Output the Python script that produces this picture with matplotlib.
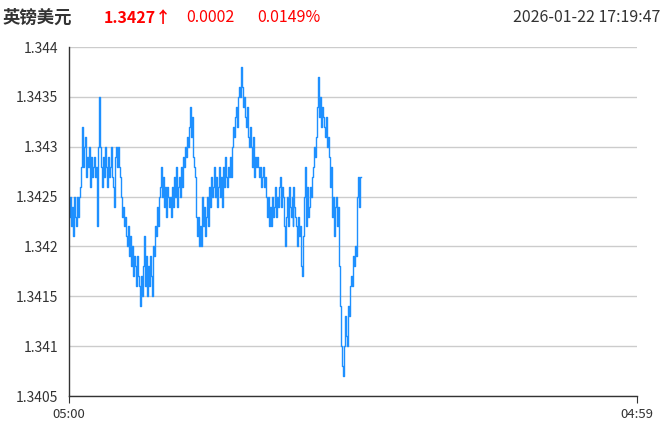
import matplotlib
matplotlib.use("Agg")
import matplotlib.pyplot as plt
import numpy as np

# GBP/USD intraday, one value per ~2.5 minutes, in pips above 1.3400
base = 1.3400
pips = [
    24, 23, 25, 22, 24, 21, 25, 23, 22, 25,
    23, 25, 26, 28, 32,
    28, 30, 31, 27, 29, 28, 30, 26, 29, 27,
    28, 29, 27, 28, 22, 30,
    35,
    30, 28, 26, 29, 27, 30, 28, 26, 29, 27,
    28, 30, 27, 26, 24, 29, 30, 28, 30, 28,
    27, 25, 23, 24, 22, 23, 21, 20, 22, 19,
    21, 18, 20, 17, 19, 18, 16, 19, 17, 16,
    14, 17, 15, 18, 21, 16, 19, 15, 18, 16,
    19, 17, 15, 20, 19, 22, 21, 24, 22, 25,
    26, 28, 25, 27, 24, 26, 23, 26, 25, 24,
    25, 23, 26, 24, 27, 25, 28, 24, 26, 27,
    25, 28, 26, 29, 28, 30, 29, 31, 30, 32,
    34, 31, 33, 29, 28, 27, 23, 21, 23, 20,
    22, 20, 25, 22, 24, 21, 23, 25, 22, 26,
    24, 27, 25, 26, 28, 25, 27, 24, 26, 28,
    25, 27, 24, 28, 26, 29, 27, 26, 28, 27,
    29, 27, 30, 32, 31, 33, 34, 32, 35, 36,
    35, 38, 36, 34, 35, 33, 32, 34, 31, 30,
    32, 30, 28, 31, 27, 29, 28, 29, 28, 27,
    28, 26, 27, 28, 26, 27, 25, 23, 25, 22,
    24, 22, 25, 23, 24, 26, 23, 25, 24, 26,
    27, 24, 26, 25, 22, 20, 23, 25, 22, 26,
    24, 23, 25, 22, 26, 24, 23, 22, 20, 23,
    21, 22, 18, 17, 21, 25, 28, 22, 26, 23,
    24, 26, 25, 27, 28, 30, 29, 31, 34, 37,
    33, 35, 32, 34, 33, 32, 31, 33, 30, 31,
    29, 26, 28, 23, 25, 21, 24, 25, 22, 24,
    18, 14, 10, 8, 7, 10, 13, 11, 10, 14,
    13, 16, 17, 16, 19, 18, 20, 19, 25, 27, 24, 27,
]
prices = base + np.array(pips) / 10000.0
elapsed_min = 739  # 05:00 -> 17:19
session_min = 1439  # 05:00 -> 04:59 next day
minutes = np.linspace(0, elapsed_min, len(prices))

y_ticks = [1.3405, 1.341, 1.3415, 1.342, 1.3425, 1.343, 1.3435, 1.344]
y_labels = ["1.3405", "1.341", "1.3415", "1.342", "1.3425", "1.343", "1.3435", "1.344"]
x_ticks = [0, session_min]
x_labels = ["05:00", "04:59"]

title = "英镑美元"
last_price = "1.3427↑"
change = "0.0002"
change_pct = "0.0149%"
stamp = "2026-01-22 17:19:47"

plt.rcParams['font.family'] = ['Noto Sans CJK SC', 'DejaVu Sans']

fig = plt.figure(figsize=(6.65, 4.33), dpi=100)
ax = fig.add_axes([69 / 665, 37 / 433, 568 / 665, 349 / 433])

ax.plot(minutes, prices, color='#1E90FF', linewidth=1.0, drawstyle='steps-mid')

ax.set_xlim(0, session_min)
ax.set_ylim(1.3405, 1.344)
ax.set_yticks(y_ticks)
ax.set_yticklabels(y_labels)
ax.set_xticks(x_ticks)
ax.set_xticklabels(x_labels)

ax.grid(axis='y', color='#cccccc', linewidth=1)
ax.set_axisbelow(True)
for side in ['top', 'right']:
    ax.spines[side].set_visible(False)
for side in ['left', 'bottom']:
    ax.spines[side].set_color('#333333')
    ax.spines[side].set_linewidth(1)
ax.tick_params(axis='y', length=0, pad=8, labelsize=10, labelcolor='#333333')
ax.tick_params(axis='x', length=5, color='#333333', pad=4, labelsize=9.5, labelcolor='#333333')

# header line
hy = 1 - 18 / 433
fig.text(3 / 665, hy, title, fontsize=12.5, fontweight='bold', color='#333333', va='center')
fig.text(104 / 665, hy, last_price, fontsize=11.5, fontweight='bold', color='#ff0000', va='center')
fig.text(186 / 665, hy, change, fontsize=11.5, color='#ff0000', va='center')
fig.text(257 / 665, hy, change_pct, fontsize=11.5, color='#ff0000', va='center')
fig.text(513 / 665, hy, stamp, fontsize=11.5, color='#333333', va='center')

fig.savefig("out.png", dpi=100)
